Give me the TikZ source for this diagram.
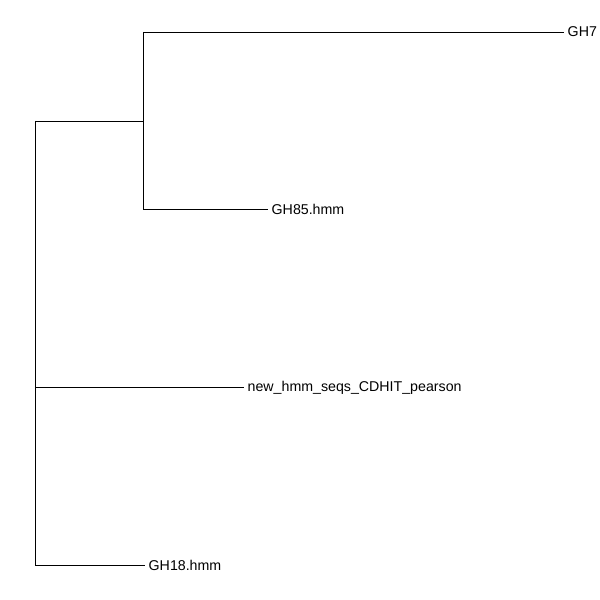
\documentclass[tikz,border=0pt]{standalone}
\usepackage{fontspec}
\setmainfont{Liberation Sans}
\begin{document}
\begin{tikzpicture}[x=1pt,y=1pt,
  edge/.style={draw=black,line width=0.9pt},
  tip/.style={anchor=west,inner xsep=3.5pt,inner ysep=2pt,font=\fontsize{14.2}{16}\selectfont}]
\useasboundingbox (0,0) rectangle (600,600);
\fill[white] (0,0) rectangle (600,600);
% internal nodes
\coordinate (root) at (35,243);
\coordinate (rtop) at (35,479);
\coordinate (rbot) at (35,35);
\coordinate (rmid) at (35,213);
\coordinate (n1) at (143,479);
\coordinate (n1top) at (143,568);
\coordinate (n1bot) at (143,391);
% tips
\node[tip] (gh7) at (564,568) {GH7};
\node[tip] (gh85) at (268,390.5) {GH85.hmm};
\node[tip] (newh) at (244,212.5) {new\_hmm\_seqs\_CDHIT\_pearson};
\node[tip] (gh18) at (145,34.5) {GH18.hmm};
% edges
\draw[edge] (rtop) -- (rbot);
\draw[edge] (root) -- (rmid);
\draw[edge] (rtop) -- (n1);
\draw[edge] (n1top) -- (n1bot);
\draw[edge] (n1top) -- (gh7.west |- n1top);
\draw[edge] (n1bot) -- (gh85.west |- n1bot);
\draw[edge] (rmid) -- (newh.west |- rmid);
\draw[edge] (rbot) -- (gh18.west |- rbot);
\end{tikzpicture}
\end{document}
